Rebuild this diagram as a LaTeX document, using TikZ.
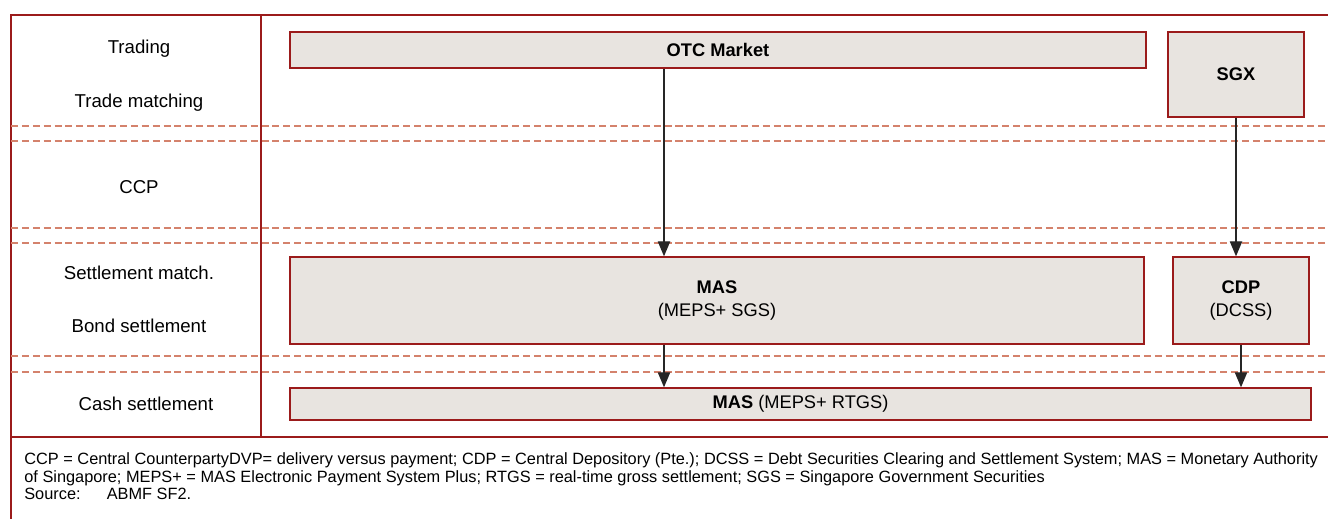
\documentclass[tikz,border=0pt]{standalone}
\usepackage{fontspec}
\setmainfont{Liberation Sans}
\usepackage{xcolor}
\usetikzlibrary{arrows.meta,positioning,calc}
\definecolor{framered}{HTML}{9B1B1B}
\definecolor{dashred}{HTML}{D4826C}
\definecolor{boxfill}{HTML}{E8E4E0}
\begin{document}
\begin{tikzpicture}[
    x=0.02cm, y=-0.02cm,
    box/.style={rectangle,draw=framered,fill=boxfill,line width=0.8pt,inner sep=0pt,font=\fontsize{10.4}{12.8}\selectfont,align=center},
    rowlabel/.style={font=\fontsize{10.6}{12}\selectfont,anchor=center},
    arrow/.style={-{Triangle[length=8.5pt,width=7pt]},line width=0.7pt,black!85},
    rule/.style={framered,line width=0.9pt},
    dashrule/.style={dashred,dash pattern=on 4pt off 2.2pt,line width=0.6pt},
    note/.style={font=\fontsize{9.3}{11}\selectfont,anchor=base west,inner sep=0pt}
]
\useasboundingbox (0,0) rectangle (1328,519);
% frame
\draw[rule] (1328,15) -- (11,15) -- (11,519);
\draw[rule] (11,437) -- (1328,437);
\draw[rule] (261,15) -- (261,437);
\foreach \y in {126,141,228,243,356,372}
  \draw[dashrule] (11,\y) -- (1328,\y);
% row labels
\node[rowlabel] (trading) at (139,49) {Trading};
\node[rowlabel] (tmatch) at (139,103) {Trade matching};
\node[rowlabel] (ccp) at (139,187) {CCP};
\node[rowlabel] (smatch) at (139,273) {Settlement match.};
\node[rowlabel] (bond) at (139,326) {Bond settlement};
\node[rowlabel] (cashlbl) at (146,404) {Cash settlement};
% boxes
\node[box,minimum width=17.12cm,minimum height=0.72cm] (otc) at (718,50) {\textbf{OTC Market}};
\node[box,minimum width=2.72cm,minimum height=1.7cm] (sgx) at (1236,74.5) {\textbf{SGX}};
\node[box,minimum width=17.08cm,minimum height=1.74cm] (mas) at (717,300.5) {\textbf{MAS}\\(MEPS+ SGS)};
\node[box,minimum width=2.72cm,minimum height=1.74cm] (cdp) at (1241,300.5) {\textbf{CDP}\\(DCSS)};
\node[box,minimum width=20.42cm,minimum height=0.64cm] (cash) at (800.5,404) {\textbf{MAS} (MEPS+ RTGS)};
\coordinate (xa) at (664,0);
% arrows
\draw[arrow] (otc.south -| xa) -- (mas.north -| xa);
\draw[arrow] (sgx.south) -- (cdp.north -| sgx.south);
\draw[arrow] (mas.south -| xa) -- (cash.north -| xa);
\draw[arrow] (cdp.south) -- (cash.north -| cdp.south);
% notes
\node[note] (note1) at (24,465) {CCP = Central CounterpartyDVP= delivery versus payment; CDP = Central Depository (Pte.); DCSS = Debt Securities Clearing and Settlement System; MAS = Monetary Authority};
\node[note] (note2) at (24,483) {of Singapore; MEPS+ = MAS Electronic Payment System Plus; RTGS = real-time gross settlement; SGS = Singapore Government Securities};
\node[note] (src) at (24,500) {Source:\hspace{1.6em}ABMF SF2.};
\end{tikzpicture}
\end{document}
